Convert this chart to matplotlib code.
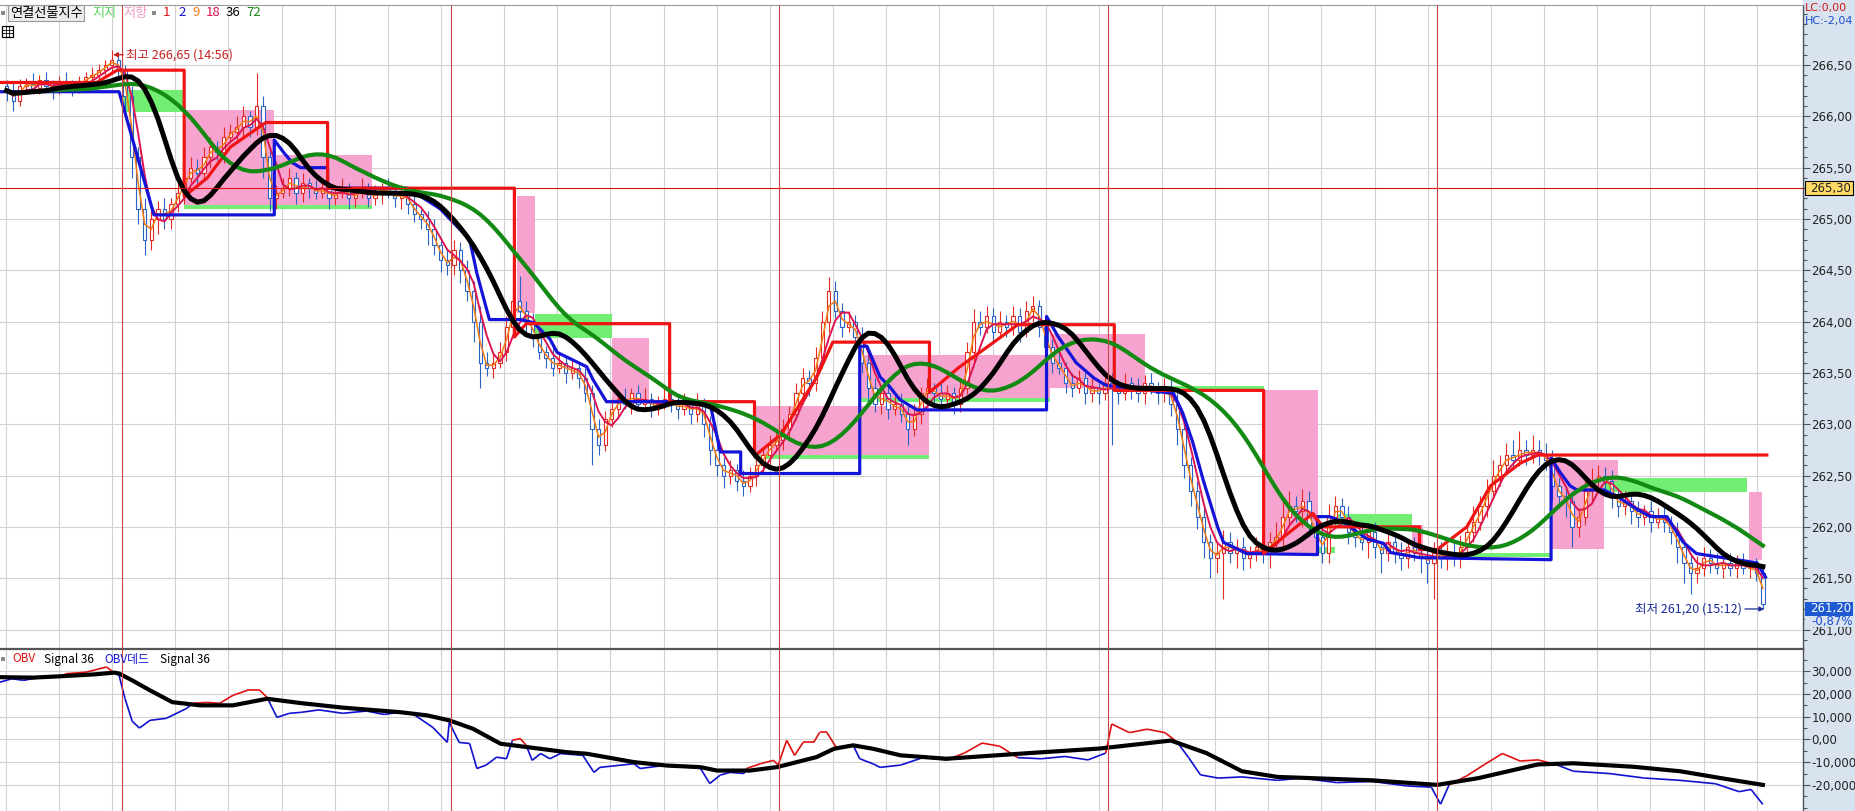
import numpy as np
import pandas as pd
import matplotlib
matplotlib.use("Agg")
import matplotlib.pyplot as plt
from matplotlib.collections import LineCollection
from matplotlib.lines import Line2D
from matplotlib.patches import Rectangle
from matplotlib.ticker import MultipleLocator, FuncFormatter

plt.rcParams["font.family"] = ["Noto Sans CJK KR", "DejaVu Sans"]

# ---------------- data (bar index = 5-day intraday series) ----------------
first_open = 266.30
close_d1 = [266.25, 266.15, 266.30, 266.32, 266.28, 266.35, 266.30, 266.27, 266.33, 266.30,
            266.28, 266.32, 266.38, 266.40, 266.45, 266.50, 266.55, 266.45]
close_d2 = [266.20, 265.60, 265.10, 264.80, 265.00, 265.10, 265.00, 265.15, 265.25, 265.40,
            265.50, 265.45, 265.60, 265.70, 265.65, 265.80, 265.85, 265.90, 266.00, 265.90,
            266.10, 265.60, 265.20, 265.25, 265.30, 265.40, 265.25, 265.35, 265.30, 265.25,
            265.30, 265.20, 265.25, 265.30, 265.20, 265.25, 265.30, 265.20, 265.25, 265.30,
            265.25, 265.20, 265.25, 265.15, 265.05, 265.00, 264.90, 264.75, 264.60, 264.55]
close_d3 = [264.70, 264.50, 264.30, 264.00, 263.60, 263.55, 263.60, 263.70, 263.95, 264.20,
            264.10, 264.00, 263.85, 263.70, 263.65, 263.55, 263.60, 263.50, 263.55, 263.45,
            263.30, 262.95, 262.80, 263.05, 263.15, 263.25, 263.20, 263.30, 263.20, 263.25,
            263.15, 263.20, 263.25, 263.20, 263.15, 263.20, 263.10, 263.20, 263.00, 262.75,
            262.60, 262.50, 262.55, 262.45, 262.40, 262.50, 262.60, 262.70, 262.80, 262.85]
close_d4 = [262.95, 263.10, 263.30, 263.45, 263.40, 263.65, 264.00, 264.30, 264.10, 263.95,
            264.00, 263.85, 263.60, 263.35, 263.20, 263.30, 263.15, 263.20, 263.10, 262.95,
            263.10, 263.30, 263.35, 263.30, 263.25, 263.30, 263.20, 263.35, 263.70, 264.00,
            263.95, 264.05, 263.90, 264.00, 263.95, 264.05, 263.90, 264.10, 264.15, 263.95,
            263.75, 263.60, 263.55, 263.40, 263.35, 263.45, 263.30, 263.35, 263.30, 263.40]
close_d5 = [263.35, 263.30, 263.40, 263.35, 263.30, 263.40, 263.35, 263.30, 263.35, 263.20,
            262.95, 262.60, 262.35, 262.10, 261.85, 261.70, 261.75, 261.85, 261.75, 261.80,
            261.70, 261.75, 261.80, 261.75, 261.85, 261.90, 262.10, 262.20, 262.15, 262.25,
            262.00, 261.90, 261.75, 262.10, 262.20, 262.10, 261.95, 261.90, 261.85, 261.95,
            261.80, 261.75, 261.85, 261.75, 261.70, 261.80, 261.75, 261.70, 261.65, 261.75]
close_d6 = [261.70, 261.75, 261.70, 261.80, 261.95, 262.05, 262.20, 262.35, 262.50, 262.60,
            262.70, 262.65, 262.75, 262.70, 262.75, 262.70, 262.65, 262.40, 262.30, 262.25,
            262.00, 262.10, 262.35, 262.45, 262.50, 262.45, 262.30, 262.20, 262.25, 262.15,
            262.10, 262.15, 262.05, 262.10, 262.05, 261.95, 261.80, 261.65, 261.55, 261.60,
            261.70, 261.65, 261.60, 261.65, 261.60, 261.65, 261.60, 261.60, 261.55, 261.25]

# upper / lower wick length beyond the candle body
wick_up_d1 = [.05, .08, .06, .05, .10, .05, .08, .05, .06, .10, .05, .07, .05, .08, .06, .05, .10, .08]
wick_dn_d1 = [.10, .10, .05, .08, .05, .06, .05, .10, .05, .06, .08, .05, .06, .05, .10, .05, .06, .08]
wick_up_d2 = [.05, .10, .10, .10, .10, .08, .10, .05, .10, .12, .10, .08, .10, .10, .06, .10, .08, .10, .10, .05,
              .32, .10, .10, .08, .10, .10, .06, .10, .05, .08, .10, .05, .08, .10, .05, .06, .10, .05, .08, .05,
              .10, .05, .08, .06, .10, .05, .08, .10, .06, .10]
wick_dn_d2 = [.15, .20, .15, .15, .10, .15, .10, .10, .08, .10, .05, .10, .08, .10, .08, .10, .05, .08, .10, .10,
              .08, .20, .12, .10, .05, .08, .10, .08, .10, .06, .05, .10, .06, .05, .10, .08, .05, .08, .06, .10,
              .05, .08, .10, .10, .08, .10, .15, .10, .12, .10]
wick_up_d3 = [.10, .08, .10, .10, .15, .10, .08, .10, .10, .10, .24, .10, .08, .10, .06, .10, .08, .05, .10, .06,
              .10, .08, .10, .08, .10, .06, .10, .05, .08, .10, .05, .08, .10, .05, .08, .10, .05, .10, .06, .08,
              .10, .08, .10, .06, .10, .08, .10, .06, .10, .08]
wick_dn_d3 = [.10, .12, .10, .20, .25, .08, .10, .05, .08, .10, .10, .10, .10, .06, .10, .08, .05, .10, .06, .10,
              .08, .35, .10, .06, .08, .10, .05, .10, .06, .05, .08, .06, .05, .08, .10, .06, .10, .08, .12, .15,
              .10, .12, .08, .10, .10, .06, .10, .08, .10, .06]
wick_up_d4 = [.10, .08, .10, .10, .08, .10, .10, .13, .10, .08, .10, .06, .10, .08, .10, .06, .10, .08, .10, .08,
              .10, .06, .10, .05, .10, .08, .06, .10, .10, .12, .10, .10, .08, .10, .06, .10, .08, .10, .10, .06,
              .10, .08, .10, .06, .10, .08, .06, .10, .05, .10]
wick_dn_d4 = [.10, .10, .06, .10, .12, .08, .10, .10, .06, .10, .05, .10, .10, .12, .08, .10, .10, .06, .08, .15,
              .06, .10, .08, .10, .06, .05, .10, .08, .06, .10, .08, .06, .10, .05, .10, .08, .10, .05, .10, .10,
              .08, .10, .06, .10, .08, .05, .10, .08, .10, .06]
wick_up_d5 = [.10, .08, .10, .06, .10, .08, .10, .06, .10, .08, .10, .10, .08, .10, .10, .08, .10, .12, .10, .08,
              .10, .06, .10, .08, .10, .15, .20, .15, .10, .12, .10, .08, .10, .12, .10, .08, .10, .06, .10, .08,
              .10, .06, .10, .08, .10, .06, .10, .08, .10, .10]
wick_dn_d5 = [.55, .10, .06, .10, .08, .10, .06, .10, .08, .12, .15, .12, .15, .12, .15, .20, .15, .45, .10, .15,
              .12, .10, .08, .10, .15, .08, .10, .08, .10, .15, .10, .15, .10, .10, .08, .10, .12, .10, .08, .15,
              .10, .20, .08, .10, .12, .10, .08, .15, .20, .35]
wick_up_d6 = [.10, .08, .10, .12, .10, .15, .10, .12, .15, .10, .12, .15, .18, .10, .15, .10, .12, .10, .08, .10,
              .10, .08, .10, .12, .10, .08, .10, .06, .10, .08, .10, .06, .10, .08, .10, .06, .10, .08, .10, .12,
              .10, .08, .10, .06, .10, .08, .10, .06, .10, .05]
wick_dn_d6 = [.10, .12, .08, .10, .08, .10, .08, .10, .08, .10, .08, .10, .06, .10, .08, .10, .10, .15, .12, .15,
              .20, .10, .08, .10, .06, .10, .12, .10, .08, .12, .10, .08, .10, .06, .10, .12, .15, .20, .20, .10,
              .08, .10, .06, .10, .08, .10, .06, .10, .08, .05]

day_breaks = [18.5, 68.5, 118.5, 168.5, 218.5]

# channel lines (highest / lowest)
upper_x = [0, 14.7, 17.8, 28.0, 28.0, 31.5, 35.0, 40.4, 49.8, 49.8, 78.2, 78.2, 80.0, 101.8, 101.8,
           114.7, 114.7, 118.7, 124.1, 126.6, 141.3, 141.3, 145.7, 151.1, 154.7, 169.4, 169.4, 192.1,
           192.1, 195.1, 199.6, 201.1, 215.8, 215.8, 218.5, 223.0, 226.6, 231.1, 233.8, 268.6]
upper_y = [266.33, 266.33, 266.45, 266.45, 265.22, 265.40, 265.70, 265.94, 265.94, 265.30, 265.30,
           263.85, 263.98, 263.98, 263.22, 263.22, 262.69, 262.90, 263.45, 263.80, 263.80, 263.31,
           263.55, 263.80, 263.97, 263.97, 263.33, 263.33, 261.74, 261.90, 262.13, 262.00, 262.00,
           261.78, 261.78, 262.00, 262.40, 262.62, 262.70, 262.70]
lower_x = [0, 18.1, 23.4, 41.7, 41.7, 43.1, 44.4, 45.7, 49.8, 49.8, 62.0, 66.9, 71.4, 72.5, 74.4,
           79.1, 81.1, 83.6, 84.7, 89.2, 90.1, 92.2, 107.9, 109.5, 112.6, 112.6, 130.7, 130.7, 131.8,
           133.8, 135.2, 136.8, 139.4, 159.1, 159.1, 160.9, 163.6, 166.3, 168.1, 178.4, 179.8, 181.3,
           182.9, 185.1, 186.0, 189.5, 200.3, 200.3, 202.1, 204.1, 205.2, 207.9, 210.3, 211.4, 215.8,
           235.8, 235.8, 237.2, 238.7, 239.7, 243.8, 245.8, 248.9, 250.9, 253.4, 255.9, 257.9, 260.9,
           267.1, 268.4]
lower_y = [266.24, 266.24, 265.04, 265.04, 265.77, 265.65, 265.55, 265.50, 265.50, 265.30, 265.30,
           265.10, 264.80, 264.47, 264.02, 264.02, 263.99, 263.83, 263.70, 263.56, 263.44, 263.22,
           263.22, 262.73, 262.73, 262.52, 262.52, 263.76, 263.76, 263.46, 263.37, 263.24, 263.14,
           263.14, 264.05, 263.85, 263.60, 263.45, 263.38, 263.30, 263.11, 262.83, 262.46, 262.00,
           261.85, 261.74, 261.73, 262.10, 262.10, 262.05, 262.00, 261.88, 261.84, 261.75, 261.70,
           261.68, 262.67, 262.53, 262.40, 262.36, 262.36, 262.30, 262.17, 262.10, 262.10, 261.85,
           261.74, 261.71, 261.65, 261.51]

# resistance (저항) and support (지지) zones
resist_x0 = [28.0, 41.7, 78.6, 93.1, 114.7, 130.7, 159.7, 192.1, 214.7, 235.8, 243.8, 265.9]
resist_x1 = [41.7, 56.6, 81.3, 98.7, 141.3, 159.7, 174.1, 200.3, 216.4, 243.8, 246.0, 267.8]
resist_lo = [265.14, 265.14, 264.08, 263.20, 262.70, 263.26, 263.35, 261.75, 261.75, 261.78, 262.45, 261.68]
resist_hi = [266.06, 265.62, 265.22, 263.84, 263.18, 263.67, 263.88, 263.33, 262.02, 262.65, 262.65, 262.34]
support_x0 = [18.5, 28.0, 81.3, 114.7, 130.7, 174.8, 200.3, 202.9, 223.5, 243.7]
support_x1 = [27.9, 56.6, 93.1, 141.3, 159.7, 192.1, 203.0, 214.7, 235.8, 265.6]
support_lo = [266.04, 265.10, 263.84, 262.66, 263.22, 263.33, 261.75, 262.00, 261.71, 262.34]
support_hi = [266.26, 265.14, 264.07, 262.70, 263.26, 263.37, 261.80, 262.13, 261.75, 262.48]

# OBV panel
obv_x = [0, 1.8, 3.6, 6.1, 9.2, 10.0, 13.1, 16.2, 17.2, 18.1, 19.0, 20.1, 21.2, 22.8, 25.3, 28.4,
         29.3, 31.5, 33.4, 35.4, 37.6, 39.5, 40.6, 42.1, 44.0, 45.7, 48.5, 52.1, 55.7, 58.4, 60.8,
         62.7, 65.8, 68.0, 68.3, 69.8, 71.4, 72.5, 73.9, 75.5, 77.0, 77.9, 79.1, 80.0, 80.9, 82.2,
         83.6, 85.2, 88.6, 90.3, 91.2, 96.4, 97.3, 101.4, 106.5, 107.9, 109.5, 111.0, 113.1, 113.5,
         115.6, 117.6, 118.3, 119.6, 120.8, 122.1, 123.7, 124.6, 125.7, 127.1, 129.7, 130.7, 132.7,
         133.8, 136.9, 140.3, 143.9, 146.6, 149.3, 152.0, 154.7, 158.3, 161.9, 165.4, 168.1, 169.0,
         171.7, 174.4, 177.1, 178.9, 180.7, 182.5, 185.2, 188.8, 194.2, 197.8, 203.2, 208.6, 214.0,
         217.6, 219.0, 220.3, 223.0, 225.7, 228.4, 231.1, 233.8, 236.5, 239.2, 244.6, 250.0, 255.4,
         260.8, 264.4, 266.2, 268.0]
obv_v = [25200, 26700, 26000, 27400, 27400, 28900, 29600, 31900, 29600, 28200, 18000, 8000, 5000,
         8400, 9300, 13700, 15900, 16300, 15900, 19400, 21600, 21600, 18500, 9700, 11500, 11900,
         13000, 11500, 12500, 11000, 12000, 11400, 5300, -1300, 7500, -1300, -1800, -12800, -11300,
         -7800, -8500, -400, 400, -2600, -9200, -6200, -8500, -6200, -7000, -14500, -12300, -10700,
         -12800, -11300, -12800, -19400, -15700, -14500, -15000, -12800, -10700, -9200, -11300, -400,
         -7000, -1300, -1300, 3100, 3100, -3400, -2600, -8500, -10700, -12300, -11300, -8000, -9000,
         -6000, -1600, -3000, -8000, -8500, -7500, -9000, -6000, 6800, 3000, 4500, 3000, -1000,
         -8000, -15600, -17000, -16500, -18000, -17000, -19000, -18500, -20500, -21000, -28500,
         -20000, -16000, -11000, -6200, -9500, -9000, -11000, -14000, -15000, -17000, -18000,
         -19500, -23000, -22000, -28600]
sig_x = [0, 5.0, 9.2, 14.2, 17.4, 18.1, 20.1, 22.8, 26.2, 30.4, 35.4, 40.6, 45.7, 52.1, 60.8, 64.9,
         68.3, 71.9, 76.1, 80.2, 86.1, 89.2, 96.4, 101.4, 106.5, 109.0, 114.0, 118.1, 124.1, 126.8,
         129.7, 132.7, 136.9, 143.9, 156.5, 167.2, 178.0, 183.4, 188.8, 194.2, 208.6, 218.5, 224.8,
         233.8, 239.2, 248.2, 255.4, 262.6, 268.0]
sig_v = [27400, 27200, 27800, 28600, 29400, 29000, 26000, 21600, 16400, 15000, 15000, 17900, 16000,
         14000, 12000, 10600, 8400, 4700, -1900, -3400, -5600, -6300, -10000, -11500, -12200, -13700,
         -13700, -12200, -7800, -4100, -2600, -4100, -7000, -8500, -6000, -4000, -500, -6000, -14000,
         -16500, -18000, -20000, -17000, -11000, -10500, -12000, -14000, -17500, -20000]

# ---------------- styling ----------------
W, H = 1855, 811
AX_R = 1803
C_UP, C_DN = "#e42a22", "#2b62c6"
C_GRID = "#d2d2d2"
C_DAY = "#c84646"
C_STRIP = "#d9e3ef"
NUM_FONT = "DejaVu Sans"

c = np.array(close_d1 + close_d2 + close_d3 + close_d4 + close_d5 + close_d6)
wu = np.array(wick_up_d1 + wick_up_d2 + wick_up_d3 + wick_up_d4 + wick_up_d5 + wick_up_d6)
wd = np.array(wick_dn_d1 + wick_dn_d2 + wick_dn_d3 + wick_dn_d4 + wick_dn_d5 + wick_dn_d6)
x = np.arange(1, len(c) + 1)
o = np.r_[first_open, c[:-1]]
top = np.maximum(o, c)
bot = np.minimum(o, c)
hi = top + wu
lo = bot - wd
cols = np.where(c >= o, C_UP, C_DN)

s = pd.Series(c)
ma9 = s.rolling(2, min_periods=1).mean()
ma18 = s.rolling(4, min_periods=1).mean()
ma36 = s.rolling(7, min_periods=1).mean().rolling(6, min_periods=1).mean()
ma72 = s.rolling(13, min_periods=1).mean().rolling(13, min_periods=1).mean()

fig = plt.figure(figsize=(W / 100, H / 100), dpi=100)
fig.patch.set_facecolor("white")
fig.add_artist(Rectangle((AX_R / W, 0), 1 - AX_R / W, 1, transform=fig.transFigure,
                         facecolor=C_STRIP, edgecolor="none", zorder=-1))

ax = fig.add_axes([0, (H - 649) / H, AX_R / W, (649 - 5) / H])
ax2 = fig.add_axes([0, 0, AX_R / W, (H - 649) / H], sharex=ax)
xmax = 274.1
ax.set_xlim(0, xmax)
ax.set_ylim(260.81, 267.085)
ax2.set_ylim(-31500, 39800)

for a in (ax, ax2):
    a.set_facecolor("white")
    for side in ("left", "bottom"):
        a.spines[side].set_visible(False)
    a.spines["right"].set_color("#4a525c")
    a.spines["right"].set_linewidth(1.0)
    a.yaxis.tick_right()
    a.tick_params(axis="x", which="both", bottom=False, labelbottom=False)
    a.tick_params(axis="y", which="major", length=5, width=0.8, color="#4a525c",
                  labelsize=8.5, pad=1, labelcolor="#222222")
    a.tick_params(axis="y", which="minor", length=3, width=0.8, color="#4a525c")
    for lab in a.get_yticklabels():
        lab.set_family(NUM_FONT)
    a.grid(axis="y", which="major", color=C_GRID, lw=0.8, zorder=0)
    a.set_axisbelow(True)
    # hourly grid and day separators
    for d in range(-1, len(day_breaks) + 1):
        b = day_breaks[0] + 50 * d
        for k in range(1, 7):
            gx = b + 8.1 * k
            if 0 < gx < xmax:
                a.axvline(gx, color=C_GRID, lw=0.8, zorder=0)
    for b in day_breaks:
        a.axvline(b, color=C_DAY, lw=0.8, zorder=9)

ax.spines["top"].set_color("#9a9a9a")
ax2.spines["top"].set_color("#555555")
ax2.spines["top"].set_linewidth(1.6)

ax.set_yticks(np.arange(261.0, 266.51, 0.5))
ax.yaxis.set_minor_locator(MultipleLocator(0.1))
ax.yaxis.set_major_formatter(FuncFormatter(lambda v, p: f"{v:.2f}".replace(".", ",")))
ax2.set_yticks(np.arange(-20000, 30001, 10000))
ax2.yaxis.set_minor_locator(MultipleLocator(5000))
ax2.yaxis.set_major_formatter(FuncFormatter(lambda v, p: "0,00" if v == 0 else f"{int(v):,}"))
for a in (ax, ax2):
    for lab in a.get_yticklabels():
        lab.set_family(NUM_FONT)

# zones
for x0, x1, y0, y1 in zip(support_x0, support_x1, support_lo, support_hi):
    ax.add_patch(Rectangle((x0, y0), x1 - x0, y1 - y0, facecolor="#72ee72", edgecolor="none", zorder=1))
for x0, x1, y0, y1 in zip(resist_x0, resist_x1, resist_lo, resist_hi):
    ax.add_patch(Rectangle((x0, y0), x1 - x0, y1 - y0, facecolor="#f7a3cf", edgecolor="none", zorder=1.5))

# candles
ax.vlines(x, lo, hi, colors=cols, lw=0.8, zorder=3)
ax.bar(x, top - bot, bottom=bot, width=0.5, color="white", edgecolor=cols, linewidth=0.8, zorder=3.5)

# averages and channel
ax.plot(x, ma9, color="#f27a12", lw=1.1, zorder=4)
ax.plot(x, ma18, color="#dc1450", lw=1.4, zorder=4.5)
ax.plot(lower_x, lower_y, color="#1414d8", lw=2.3, zorder=5)
ax.plot(upper_x, upper_y, color="#f01414", lw=2.3, zorder=5.5)
ax.plot(x, ma72, color="#138a13", lw=3.0, zorder=6)
ax.plot(x, ma36, color="black", lw=3.6, zorder=7)

# current-price line and price boxes on the axis strip
ax.axhline(265.30, color="#e01010", lw=0.8, zorder=8)
ytr = ax.get_yaxis_transform()
bw = (W - AX_R - 4) / AX_R
for yv, txt, fc, tc in [(265.30, "265,30", "#ffd966", "#222222"), (261.20, "261,20", "#1d5ad2", "white")]:
    ax.add_patch(Rectangle((1.0 + 2 / AX_R, yv - 0.07), bw, 0.14, transform=ytr, clip_on=False,
                           facecolor=fc, edgecolor="black" if tc != "white" else "none", lw=0.8, zorder=20))
    ax.text(1.0 + (W - AX_R - 4) / AX_R, yv, txt, transform=ytr, ha="right", va="center", fontsize=8.5,
            color=tc, family=NUM_FONT, clip_on=False, zorder=21)
ax.add_patch(Rectangle((1.0 + 2 / AX_R, 261.02), bw, 0.11, transform=ytr, clip_on=False,
                       facecolor=C_STRIP, edgecolor="none", zorder=20))
ax.text(1.0 + 8 / AX_R, 261.075, "-0,87%", transform=ytr, ha="left", va="center", fontsize=8.5,
        color="#1d4fd0", family=NUM_FONT, clip_on=False, zorder=21)

ax.annotate("최고 266,65 (14:56)", xy=(17.2, 266.60), xytext=(13, 0), textcoords="offset pixels",
            ha="left", va="center", fontsize=9, color="#c81e1e", zorder=12,
            arrowprops=dict(arrowstyle="-|>", color="#c81e1e", lw=0.9, shrinkA=0, shrinkB=0,
                            mutation_scale=7))
ax.annotate("최저 261,20 (15:12)", xy=(268.2, 261.20), xytext=(-22, 0), textcoords="offset pixels",
            ha="right", va="center", fontsize=9, color="#1a2a9a", zorder=12,
            arrowprops=dict(arrowstyle="-|>", color="#1a2a9a", lw=0.9, shrinkA=0, shrinkB=0,
                            mutation_scale=7))

# OBV panel
ox, ov = np.array(obv_x), np.array(obv_v)
sv = np.interp(ox, sig_x, sig_v)
above = (ov[:-1] + ov[1:]) > (sv[:-1] + sv[1:])
segs = [[(ox[i], ov[i]), (ox[i + 1], ov[i + 1])] for i in range(len(ox) - 1)]
ax2.add_collection(LineCollection(segs, colors=np.where(above, "#e01010", "#1010d0"),
                                  linewidths=1.2, zorder=4))
ax2.plot(sig_x, sig_v, color="black", lw=3.0, zorder=5)


# ---------------- header texts ----------------
def fx(px):
    return px / W


def fy(py):
    return 1 - py / H


def square(px, py, size=4):
    fig.add_artist(Rectangle((fx(px), fy(py + size / 2)), size / W, size / H, transform=fig.transFigure,
                             facecolor="#8a8a8a", edgecolor="none", zorder=20))


square(1, 13)
fig.add_artist(Rectangle((fx(8), fy(21)), 76 / W, 16 / H, transform=fig.transFigure,
                         facecolor="#ececec", edgecolor="#9a9a9a", lw=0.8, zorder=20))
fig.text(fx(10), fy(13), "연결선물지수", fontsize=9.5, va="center", zorder=21)
fig.text(fx(92), fy(13), "지지", fontsize=9.5, va="center", color="#5cd65c", zorder=21)
fig.text(fx(123), fy(13), "저항", fontsize=9.5, va="center", color="#f09cc8", zorder=21)
square(152, 13)
for px, label, col in [(163, "1", "#e01010"), (178, "2", "#1414d8"), (192, "9", "#f27a12"),
                       (206, "18", "#dc1450"), (226, "36", "black"), (246, "72", "#138a13")]:
    fig.text(fx(px), fy(13), label, fontsize=9.5, va="center", color=col, zorder=21)

# small table icon under the legend
fig.add_artist(Rectangle((fx(2), fy(37)), 11 / W, 11 / H, transform=fig.transFigure,
                         facecolor="white", edgecolor="black", lw=0.9, zorder=20))
for k in (1, 2):
    fig.add_artist(Line2D([fx(2), fx(13)], [fy(26 + 11 * k / 3)] * 2, transform=fig.transFigure,
                          color="black", lw=0.6, zorder=21))
    fig.add_artist(Line2D([fx(2 + 11 * k / 3)] * 2, [fy(26), fy(37)], transform=fig.transFigure,
                          color="black", lw=0.6, zorder=21))

fig.text(fx(1805), fy(8), "LC:0,00", fontsize=8, va="center", color="#d01818", family=NUM_FONT)
fig.text(fx(1805), fy(21), "HC:-2,04", fontsize=8, va="center", color="#1d4fd0", family=NUM_FONT)

square(1, 659)
for px, label, col in [(12, "OBV", "#e01010"), (44, "Signal 36", "black"),
                       (104, "OBV데드", "#1414d8"), (160, "Signal 36", "black")]:
    fig.text(fx(px), fy(659), label, fontsize=8.5, va="center", color=col, zorder=21)

fig.savefig("out.png", dpi=100, facecolor=fig.get_facecolor())
